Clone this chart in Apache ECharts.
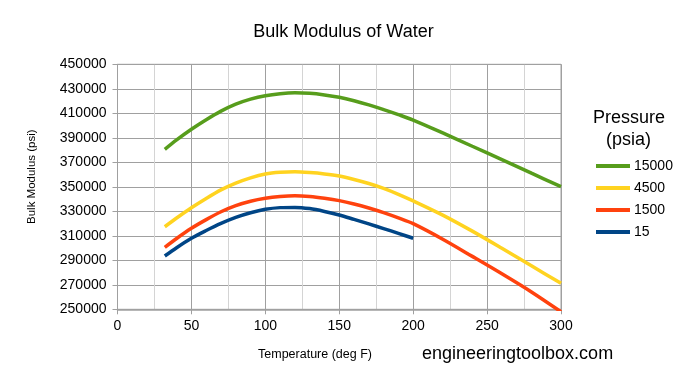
<!DOCTYPE html>
<html>
<head>
<meta charset="utf-8">
<script src="https://cdn.jsdelivr.net/npm/echarts@6/dist/echarts.min.js"></script>
<style>
html,body{margin:0;padding:0;background:#fff;}
#c{width:687px;height:386px;}
</style>
</head>
<body>
<div id="c"></div>
<script>
const temps = [32, 40, 50, 60, 70, 80, 90, 100, 110, 120, 130, 140, 150, 160, 170, 180, 190, 200, 220, 240, 260, 280, 300];
const p15000 = [380600, 388300, 397000, 404800, 411800, 417500, 421600, 424400, 426000, 426700, 426300, 425000, 423100, 420300, 416900, 413000, 408900, 404500, 394000, 383100, 372200, 361100, 350100];
const p4500 = [317400, 324500, 332900, 340500, 347500, 353000, 357300, 360400, 361800, 362200, 361600, 360500, 358800, 356000, 352700, 348700, 343900, 338500, 326900, 313800, 299800, 285500, 271200];
const p1500 = [300600, 307800, 316100, 323200, 329600, 334600, 338200, 340600, 342000, 342600, 342000, 340600, 338700, 336000, 332700, 328900, 324600, 319900, 307200, 293200, 279000, 264200, 248000];
const p15 = [293500, 300300, 308000, 314300, 320100, 325000, 328800, 331600, 333000, 333200, 332200, 329900, 327000, 323400, 319700, 315900, 312000, 308000];
const seriesNames = ['15000', '4500', '1500', '15'];
const seriesValues = [p15000, p4500, p1500, p15];
const colors = ['#579d1c', '#ffd320', '#ff420e', '#004586'];

const FONT = '"Liberation Sans", Arial, sans-serif';
const chart = echarts.init(document.getElementById('c'), null, {renderer: 'canvas'});

const series = seriesNames.map((n, i) => ({
  name: n,
  type: 'line',
  data: seriesValues[i].map((v, j) => [temps[j], v]),
  smooth: 0.3,
  showSymbol: false,
  symbol: 'none',
  clip: true,
  lineStyle: {width: 3.5, color: colors[i]},
  itemStyle: {color: colors[i]},
  z: 10 - i
}));

chart.setOption({
  animation: false,
  backgroundColor: '#ffffff',
  title: {
    text: 'Bulk Modulus of Water',
    left: 'center',
    top: 18,
    textStyle: {fontFamily: FONT, fontSize: 18, fontWeight: 'normal', color: '#000'}
  },
  grid: {left: 117.5, right: 126, top: 64.3, bottom: 76.7, containLabel: false, show: false},
  xAxis: {
    type: 'value',
    min: 0, max: 300, interval: 50,
    axisLine: {show: true, lineStyle: {color: '#a0a0a0', width: 1.5}},
    axisTick: {show: true, length: 5, lineStyle: {color: '#a0a0a0'}},
    axisLabel: {fontFamily: FONT, fontSize: 14, color: '#000', margin: 10},
    splitLine: {show: true, lineStyle: {color: '#a0a0a0', width: 1}},
    minorTick: {show: false, splitNumber: 2},
    minorSplitLine: {show: true, lineStyle: {color: '#d4d4d4', width: 1}}
  },
  yAxis: {
    type: 'value',
    min: 250000, max: 450000, interval: 20000,
    axisLine: {show: true, lineStyle: {color: '#a0a0a0', width: 1}},
    axisTick: {show: true, length: 5, lineStyle: {color: '#a0a0a0'}},
    axisLabel: {fontFamily: FONT, fontSize: 14, color: '#000', margin: 11, formatter: v => String(v)},
    splitLine: {show: true, lineStyle: {color: '#a0a0a0', width: 1}}
  },
  legend: {
    orient: 'vertical',
    left: 591,
    top: 154,
    itemWidth: 34,
    itemHeight: 4,
    itemGap: 8,
    icon: 'rect',
    data: seriesNames,
    textStyle: {fontFamily: FONT, fontSize: 14, color: '#000', padding: [0, 0, 0, -1], lineHeight: 14}
  },
  graphic: [
    {type: 'text', left: 593, top: 109, style: {text: 'Pressure', font: '18px ' + FONT, fill: '#000'}},
    {type: 'text', left: 606, top: 131, style: {text: '(psia)', font: '18px ' + FONT, fill: '#000'}},
    {type: 'text', x: 315, y: 355, style: {text: 'Temperature (deg F)', font: '12.5px ' + FONT, fill: '#000', align: 'center', verticalAlign: 'middle'}},
    {type: 'text', x: 31.7, y: 176.7, rotation: Math.PI / 2, style: {text: 'Bulk Modulus (psi)', font: '11.5px ' + FONT, fill: '#000', align: 'center', verticalAlign: 'middle'}},
    {type: 'text', left: 422, top: 345, style: {text: 'engineeringtoolbox.com', font: '18px ' + FONT, fill: '#000'}},
    {type: 'rect', shape: {x: 117.5, y: 64.3, width: 443.5, height: 245}, style: {fill: 'none', stroke: '#a0a0a0', lineWidth: 1}, silent: true, z: 1}
  ],
  series: series
});
</script>
</body>
</html>
